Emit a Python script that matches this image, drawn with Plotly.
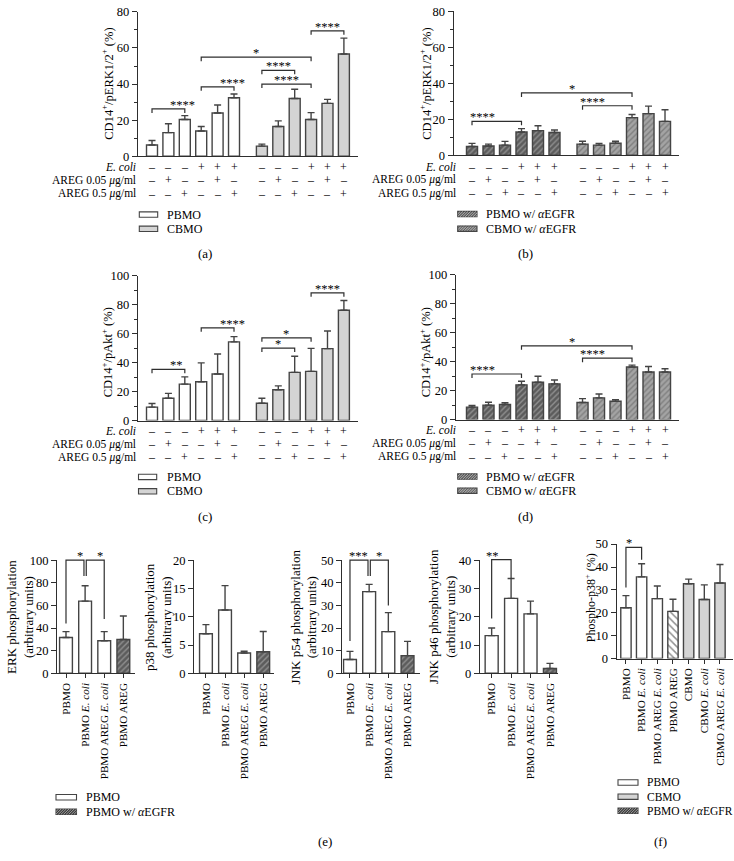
import plotly.graph_objects as go

W, H = 734, 861
SERIF = "Liberation Serif"

# ---------------- data ----------------
ecoli_row = ["–", "–", "–", "+", "+", "+"]
areg005_row = ["–", "+", "–", "–", "+", "–"]
areg05_row = ["–", "–", "+", "–", "–", "+"]
row_labels = ["<i>E. coli</i>", "AREG 0.05 <i>μ</i>g/ml", "AREG 0.5 <i>μ</i>g/ml"]

group1_pos = [0, 1, 2, 3, 4, 5]
group2_pos = [6.7, 7.7, 8.7, 9.7, 10.7, 11.7]

a_pbmo = [6.2, 13.1, 20.4, 14.0, 24.0, 32.4]
a_pbmo_sd = [2.5, 4.9, 2.1, 2.5, 4.4, 2.1]
a_cbmo = [5.6, 16.5, 32.0, 20.4, 29.3, 56.7]
a_cbmo_sd = [1.1, 3.1, 5.1, 3.8, 2.2, 8.8]

b_pbmo = [4.9, 5.1, 5.6, 12.9, 13.7, 12.6]
b_pbmo_sd = [1.7, 1.1, 2.1, 1.9, 2.7, 1.4]
b_cbmo = [6.2, 5.6, 6.7, 20.9, 23.1, 18.8]
b_cbmo_sd = [1.6, 1.0, 1.1, 1.7, 4.2, 6.5]

c_pbmo = [9.3, 15.4, 25.2, 26.8, 32.2, 54.4]
c_pbmo_sd = [2.5, 3.4, 5.0, 13.1, 13.8, 3.6]
c_cbmo = [12.0, 21.3, 33.3, 34.0, 49.7, 76.2]
c_cbmo_sd = [3.4, 2.7, 11.1, 15.9, 12.2, 6.8]

d_pbmo = [8.6, 10.0, 10.4, 24.0, 25.8, 24.7]
d_pbmo_sd = [1.1, 2.0, 1.2, 2.5, 4.1, 2.7]
d_cbmo = [11.8, 15.0, 12.7, 36.3, 32.9, 32.9]
d_cbmo_sd = [2.7, 2.7, 1.1, 1.3, 3.8, 2.2]

e_labels = ["PBMO", "PBMO <i>E. coli</i>", "PBMO AREG <i>E. coli</i>", "PBMO AREG"]
erk_vals = [31.6, 63.8, 28.7, 29.9]
erk_sd = [5.2, 13.6, 8.1, 20.8]
p38_vals = [7.0, 11.2, 3.6, 3.8]
p38_sd = [1.6, 4.3, 0.3, 3.6]
p54_vals = [6.1, 36.1, 18.4, 7.8]
p54_sd = [3.6, 3.2, 8.4, 6.3]
p46_vals = [13.3, 26.5, 21.0, 1.7]
p46_sd = [2.7, 7.0, 4.5, 1.8]

f_labels = ["PBMO", "PBMO <i>E. coli</i>", "PBMO AREG <i>E. coli</i>", "PBMO AREG",
            "CBMO", "CBMO <i>E. coli</i>", "CBMO AREG <i>E. coli</i>"]
f_vals = [22.2, 35.7, 26.2, 20.6, 32.7, 25.8, 33.0]
f_sd = [5.3, 5.7, 5.5, 5.3, 2.0, 6.4, 8.1]

# significance brackets: (x_left, x_right, level, label)
a_sig = [(0, 2, 26.2, "****"), (3, 5, 38.5, "****"), (3, 9.7, 54.9, "*"),
         (6.7, 8.7, 47.6, "****"), (6.7, 9.7, 40.0, "****"), (9.7, 11.7, 69.5, "****")]
b_sig = [(0, 3, 18.8, "****"), (3, 9.7, 34.6, "*"), (6.7, 9.7, 27.5, "****")]
c_sig = [(0, 2, 35.4, "**"), (3, 5, 64.1, "****"), (6.7, 8.7, 50.1, "*"),
         (6.7, 9.7, 57.1, "*"), (9.7, 11.7, 88.2, "****")]
d_sig = [(0, 3, 31.5, "****"), (3, 9.7, 51.0, "*"), (6.7, 9.7, 42.4, "****")]
# (x_left, x_right, level, label, left leg end, right leg end)
erk_sig = [(0, 0.94, 100, "*", 44, 86), (1.06, 2, 100, "*", 86, 48)]
p54_sig = [(0, 0.94, 50, "***", 14.3, 43), (1.06, 2, 50, "*", 43, 30)]
p46_sig = [(0, 1, 40.2, "**", 19.4, 33.5)]
f_sig = [(0, 1, 48.6, "*", 31, 43.2)]

# ---------------- geometry (pixels) ----------------
panels = {
    "a": dict(i=1, x0=138, x1=358, y0=151.7, y1=5, xr=(-0.854, 12.56), yr=(0, 80)),
    "b": dict(i=2, x0=453.7, x1=678.7, y0=150.7, y1=4.3, xr=(-1.11, 12.53), yr=(0, 80)),
    "c": dict(i=3, x0=138, x1=358, y0=420.4, y1=273.3, xr=(-0.854, 12.56), yr=(0, 100)),
    "d": dict(i=4, x0=456, x1=678.7, y0=419.4, y1=272.3, xr=(-0.97, 12.53), yr=(0, 100)),
    "erk": dict(i=5, x0=57.3, x1=135, y0=677.3, y1=562.3, xr=(-0.455, 3.61), yr=(0, 100)),
    "p38": dict(i=6, x0=194.3, x1=274.3, y0=677.3, y1=562.3, xr=(-0.61, 3.58), yr=(0, 20)),
    "p54": dict(i=7, x0=342.3, x1=420, y0=677.3, y1=562.3, xr=(-0.4, 3.65), yr=(0, 50)),
    "p46": dict(i=8, x0=480, x1=558.3, y0=677.3, y1=562.3, xr=(-0.6, 3.43), yr=(0, 40)),
    "f": dict(i=9, x0=616.7, x1=733, y0=662.3, y1=546, xr=(-0.59, 6.83), yr=(0, 50)),
}


def xpx(p, v):
    P = panels[p]
    return P["x0"] + (v - P["xr"][0]) / (P["xr"][1] - P["xr"][0]) * (P["x1"] - P["x0"])


def ypx(p, v):
    P = panels[p]
    return P["y0"] + (v - P["yr"][0]) / (P["yr"][1] - P["yr"][0]) * (P["y1"] - P["y0"])


def PX(x):
    return x / W


def PY(y):
    return 1 - y / H


def ax_names(p):
    i = panels[p]["i"]
    return ("x" if i == 1 else f"x{i}"), ("y" if i == 1 else f"y{i}")


fig = go.Figure()
shapes = []
annots = []

LINE = "#2e2e2e"
EDGE = "#444444"
GRAY = "#d4d4d4"


def bar(p, xs, ys, sd, fill, pattern=None, width=0.67):
    xa, ya = ax_names(p)
    marker = dict(color=fill, line=dict(color=EDGE, width=1.4))
    if pattern:
        marker["pattern"] = pattern
    fig.add_trace(go.Bar(
        x=xs, y=ys, xaxis=xa, yaxis=ya, width=width, marker=marker, showlegend=False,
        error_y=dict(type="data", array=sd, arrayminus=[0] * len(sd), symmetric=False,
                     color=EDGE, thickness=1.4, width=3.5),
        hoverinfo="skip"))


dark_hatch = dict(shape="/", bgcolor="#5c5c5c", fgcolor="#c4c4c4", size=4, solidity=0.35)
light_hatch = dict(shape="/", bgcolor="#a4a4a4", fgcolor="#5a5a5a", size=4, solidity=0.35)
white_hatch = dict(shape="\\", bgcolor="white", fgcolor="#222222", size=5, solidity=0.3)

bar("a", group1_pos, a_pbmo, a_pbmo_sd, "white")
bar("a", group2_pos, a_cbmo, a_cbmo_sd, GRAY)
bar("b", group1_pos, b_pbmo, b_pbmo_sd, "#5c5c5c", dark_hatch)
bar("b", group2_pos, b_cbmo, b_cbmo_sd, "#a4a4a4", light_hatch)
bar("c", group1_pos, c_pbmo, c_pbmo_sd, "white")
bar("c", group2_pos, c_cbmo, c_cbmo_sd, GRAY)
bar("d", group1_pos, d_pbmo, d_pbmo_sd, "#5c5c5c", dark_hatch)
bar("d", group2_pos, d_cbmo, d_cbmo_sd, "#a4a4a4", light_hatch)

for p, vals, sd in [("erk", erk_vals, erk_sd), ("p38", p38_vals, p38_sd),
                    ("p54", p54_vals, p54_sd), ("p46", p46_vals, p46_sd)]:
    bar(p, [0, 1, 2], vals[:3], sd[:3], "white")
    bar(p, [3], vals[3:], sd[3:], "#5c5c5c", dark_hatch)

bar("f", [0, 1, 2], f_vals[:3], f_sd[:3], "white", width=0.66)
bar("f", [3], f_vals[3:4], f_sd[3:4], "white", white_hatch, width=0.66)
bar("f", [4, 5, 6], f_vals[4:], f_sd[4:], GRAY, width=0.66)

# ---------------- axes ----------------
tickfont = dict(family=SERIF, size=12.5, color="black")
xlabfont = dict(family=SERIF, size=11.2, color="black")
axis_common = dict(showline=True, linecolor=LINE, linewidth=1.4, showgrid=False,
                   zeroline=False, fixedrange=True)
layout_axes = {}
for p, P in panels.items():
    i = P["i"]
    xk = "xaxis" if i == 1 else f"xaxis{i}"
    yk = "yaxis" if i == 1 else f"yaxis{i}"
    xa, ya = ax_names(p)
    xd = dict(axis_common, domain=[PX(P["x0"]), PX(P["x1"])], range=list(P["xr"]), anchor=ya)
    yd = dict(axis_common, domain=[PY(P["y0"]), PY(P["y1"])], range=list(P["yr"]), anchor=xa,
              ticks="outside", ticklen=5, tickwidth=1.3, tickcolor=LINE, tickfont=tickfont)
    if p in ("a", "b", "c", "d"):
        xd.update(ticks="", showticklabels=False)
        yd.update(tick0=0, dtick=20,
                  minor=dict(ticks="outside", ticklen=3, tickwidth=1.2, tickcolor=LINE,
                             tick0=0, dtick=10, showgrid=False))
    else:
        labels = e_labels if p != "f" else f_labels
        xd.update(ticks="outside", ticklen=4, tickwidth=1.2, tickcolor=LINE,
                  tickvals=list(range(len(labels))), ticktext=labels, tickangle=-90,
                  tickfont=xlabfont)
        dt = {"erk": 20, "p38": 5, "p54": 10, "p46": 10, "f": 10}[p]
        yd.update(tick0=0, dtick=dt)
    layout_axes[xk] = xd
    layout_axes[yk] = yd


# ---------------- brackets ----------------
def add_bracket(p, xl, xr_, lvl, label, la, lb):
    X1, X2 = xpx(p, xl), xpx(p, xr_)
    Y = ypx(p, lvl)
    YA, YB = ypx(p, la), ypx(p, lb)
    path = f"M{PX(X1)},{PY(YA)} L{PX(X1)},{PY(Y)} L{PX(X2)},{PY(Y)} L{PX(X2)},{PY(YB)}"
    shapes.append(dict(type="path", path=path, xref="paper", yref="paper",
                       line=dict(color=LINE, width=1.2)))
    annots.append(dict(x=PX((X1 + X2) / 2), y=PY(Y), xref="paper", yref="paper",
                       text=label, showarrow=False, yanchor="bottom", yshift=-5,
                       font=dict(family=SERIF, size=12.5, color="black")))


for p, sig in [("a", a_sig), ("b", b_sig), ("c", c_sig), ("d", d_sig)]:
    P = panels[p]
    drop = 4 * (P["yr"][1] - P["yr"][0]) / (P["y0"] - P["y1"])
    for xl, xr_, lvl, lab in sig:
        add_bracket(p, xl, xr_, lvl, lab, lvl - drop, lvl - drop)
for p, sig in [("erk", erk_sig), ("p54", p54_sig), ("p46", p46_sig), ("f", f_sig)]:
    for xl, xr_, lvl, lab, la, lb in sig:
        add_bracket(p, xl, xr_, lvl, lab, la, lb)

# ---------------- condition tables ----------------
for p, label_right, rows_y in [("a", 138, [163, 176.3, 190]), ("b", 458, [162.7, 175.7, 189.3]),
                               ("c", 138, [431, 444.3, 457.5]), ("d", 458, [430.3, 443.5, 457])]:
    for r, (row, lab) in enumerate(zip([ecoli_row, areg005_row, areg05_row], row_labels)):
        annots.append(dict(x=PX(label_right), y=PY(rows_y[r]), xref="paper", yref="paper",
                           text=lab, showarrow=False, xanchor="right", yanchor="middle",
                           font=dict(family=SERIF, size=11.5, color="black")))
        for pos, sym in zip(group1_pos + group2_pos, row + row):
            annots.append(dict(x=PX(xpx(p, pos)), y=PY(rows_y[r]), xref="paper", yref="paper",
                               text=sym, showarrow=False, xanchor="center", yanchor="middle",
                               font=dict(family=SERIF, size=12, color="black")))

# ---------------- y-axis titles ----------------
ytitles = [
    ("CD14<sup>+</sup>/pERK1/2<sup>+</sup> (%)", 107, 78, 12.5),
    ("CD14<sup>+</sup>/pERK1/2<sup>+</sup> (%)", 425, 78, 12.5),
    ("CD14<sup>+</sup>/pAkt<sup>+</sup> (%)", 107, 351, 12.5),
    ("CD14<sup>+</sup>/pAkt<sup>+</sup> (%)", 425, 351, 12.5),
    ("ERK phosphorylation<br>(arbitrary units)", 20, 620, 13),
    ("p38 phosphorylation<br>(arbitrary units)", 158, 620, 13),
    ("JNK p54 phosphorylation<br>(arbitrary units)", 303.5, 620, 13),
    ("JNK p46 phosphorylation<br>(arbitrary units)", 442, 620, 13),
    ("Phospho-p38<sup>+</sup> (%)", 590, 601, 12),
]
for txt, x, y, fs in ytitles:
    annots.append(dict(x=PX(x), y=PY(y), xref="paper", yref="paper", text=txt, textangle=-90,
                       showarrow=False, xanchor="center", yanchor="middle",
                       font=dict(family=SERIF, size=fs, color="black")))


# ---------------- legends ----------------
def swatch(x0, x1, yc, kind):
    h = 5.5
    yt, yb = yc - h / 2, yc + h / 2
    fills = {"white": "white", "gray": GRAY, "dark": "#5c5c5c", "light": "#a4a4a4", "dark2": "#3a3a3a"}
    shapes.append(dict(type="rect", xref="paper", yref="paper", x0=PX(x0), x1=PX(x1),
                       y0=PY(yb), y1=PY(yt), fillcolor=fills[kind],
                       line=dict(color=EDGE, width=1.1)))
    if kind in ("dark", "light", "dark2"):
        col = {"dark": "#c4c4c4", "light": "#4a4a4a", "dark2": "#bbbbbb"}[kind]
        s = x0 - h
        while s < x1:
            sx, sy, ex, ey = s, yb, s + h, yt
            if sx < x0:
                sy = yb - (x0 - sx)
                sx = x0
            if ex > x1:
                ey = yt + (ex - x1)
                ex = x1
            if ex > sx:
                shapes.append(dict(type="line", xref="paper", yref="paper", x0=PX(sx), y0=PY(sy),
                                   x1=PX(ex), y1=PY(ey), line=dict(color=col, width=0.8)))
            s += 2.6


def legend_item(x0, x1, tx, yc, kind, text, fs=12):
    swatch(x0, x1, yc, kind)
    annots.append(dict(x=PX(tx), y=PY(yc), xref="paper", yref="paper", text=text,
                       showarrow=False, xanchor="left", yanchor="middle",
                       font=dict(family=SERIF, size=fs, color="black")))


legend_item(139.3, 157.7, 165, 211, "white", "PBMO")
legend_item(139.3, 157.7, 165, 225.5, "gray", "CBMO")
legend_item(457.7, 477, 483.5, 210.5, "dark", "PBMO w/ <i>α</i>EGFR")
legend_item(457.7, 477, 483.5, 225.3, "light", "CBMO w/ <i>α</i>EGFR")
legend_item(138.5, 156.7, 164.5, 477.7, "white", "PBMO")
legend_item(138.5, 156.7, 164.5, 492.3, "gray", "CBMO")
legend_item(457.7, 477, 483.5, 477.3, "dark", "PBMO w/ <i>α</i>EGFR")
legend_item(457.7, 477, 483.5, 491.7, "light", "CBMO w/ <i>α</i>EGFR")
legend_item(56, 76.5, 83.5, 803.3, "white", "PBMO")
legend_item(56, 76.5, 83.5, 818, "dark2", "PBMO w/ <i>α</i>EGFR")
legend_item(618, 638, 645, 788.3, "white", "PBMO", 11.5)
legend_item(618, 638, 645, 802.7, "gray", "CBMO", 11.5)
legend_item(618, 638, 645, 817, "dark2", "PBMO w/ <i>α</i>EGFR", 11.5)

for txt, x, y in [("(a)", 205, 251), ("(b)", 525, 251), ("(c)", 205, 518),
                  ("(d)", 525, 518), ("(e)", 325, 848), ("(f)", 660, 848)]:
    annots.append(dict(x=PX(x), y=PY(y), xref="paper", yref="paper", text=txt, showarrow=False,
                       xanchor="center", yanchor="middle",
                       font=dict(family=SERIF, size=13, color="black")))

fig.update_layout(
    width=W, height=H, margin=dict(l=0, r=0, t=0, b=0), autosize=False,
    paper_bgcolor="white", plot_bgcolor="rgba(0,0,0,0)", barmode="overlay",
    showlegend=False, shapes=shapes, annotations=annots, **layout_axes)

fig.write_html("out.html", config=dict(displayModeBar=False),
               post_script="document.body.style.margin='0';document.body.style.overflow='hidden';")
